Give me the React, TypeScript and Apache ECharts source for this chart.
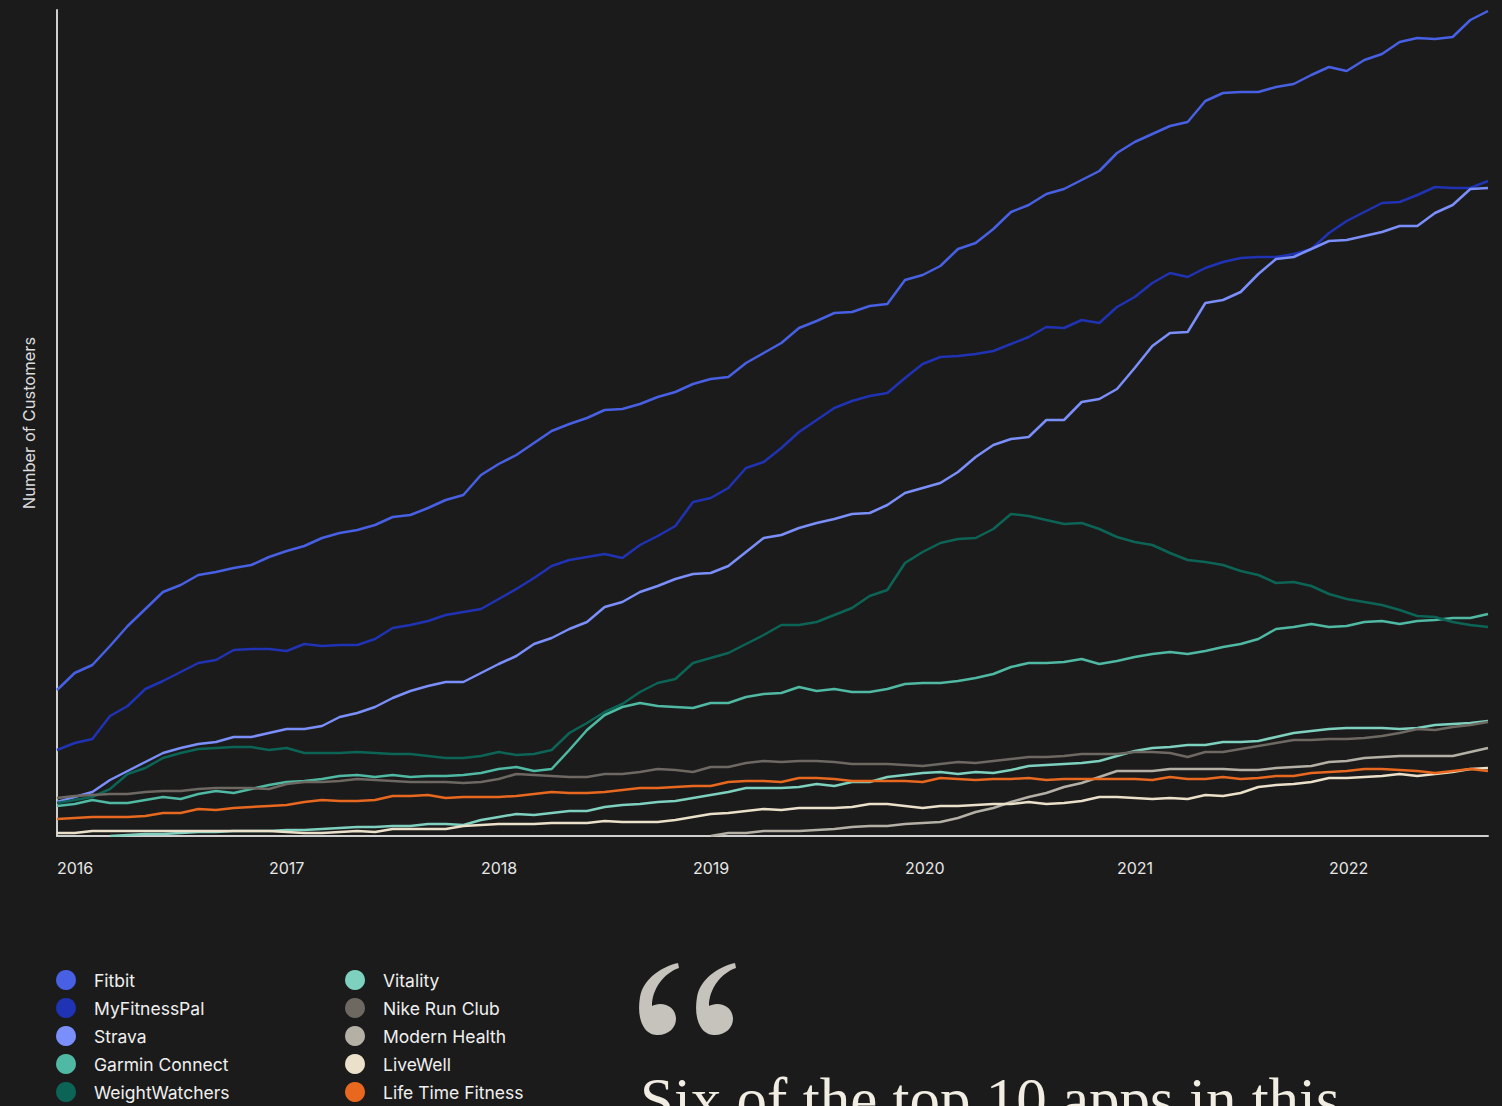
import { useEffect, useRef } from "react";
import * as echarts from "echarts";

// ---------- data ----------
const yearLabels: string[] = ["2016", "2017", "2018", "2019", "2020", "2021", "2022"];
const monthCount = 82; // Jan 2016 .. Oct 2022, monthly
const months: string[] = Array.from({ length: monthCount }, (_, i) => {
  const y = 2016 + Math.floor(i / 12);
  const m = (i % 12) + 1;
  return `${y}-${m < 10 ? "0" + m : m}`;
});

const fitbit = [146,163,171,190,210,227,244,251,261,264,268,271,279,285,290,298,303,306,311,319,321,328,336,341,361,372,381,393,405,412,418,426,427,432,439,444,452,457,459,473,483,493,508,515,523,524,530,532,556,561,570,587,593,607,624,631,642,647,656,665,683,694,702,710,714,735,743,744,744,749,752,761,769,765,776,782,794,798,797,799,816,825];
const myFitnessPal = [86,93,97,120,130,147,155,164,173,176,186,187,187,185,192,190,191,191,197,208,211,215,221,224,227,237,247,258,270,276,279,282,278,291,300,310,334,338,348,368,374,388,404,416,428,435,440,443,458,472,479,480,482,485,492,499,509,508,516,513,529,539,553,563,559,568,574,578,579,579,582,587,603,615,624,633,634,641,649,648,648,655];
const strava = [34,39,44,56,65,74,83,88,92,94,99,99,103,107,107,110,119,123,129,138,145,150,154,154,163,172,180,192,198,207,214,229,234,244,250,257,262,263,270,284,298,301,308,313,317,322,323,331,343,348,353,364,379,391,397,399,416,416,434,437,447,468,490,503,504,533,536,544,562,577,579,587,595,596,600,604,610,610,623,631,647,648];
const garminConnect = [30,32,36,33,33,36,39,37,42,45,43,47,51,54,55,57,60,61,59,61,59,60,60,61,63,67,69,65,67,86,106,121,129,133,130,129,128,133,133,139,142,143,149,145,147,144,144,147,152,153,153,155,158,162,169,173,173,174,177,172,175,179,182,184,182,185,189,192,197,207,209,212,209,210,214,215,212,215,216,218,218,222];
const weightWatchers = [33,36,39,47,62,68,78,83,87,88,89,89,86,88,83,83,83,84,83,82,82,80,78,78,80,84,81,82,86,103,113,124,132,144,153,157,173,178,183,192,201,211,211,214,221,228,240,246,273,284,293,297,298,307,322,320,316,312,313,307,299,294,291,283,276,274,271,265,261,253,254,250,242,237,234,231,226,220,219,214,211,209];
const vitality = [null,null,null,0,1,2,2,3,4,4,5,5,5,6,6,7,8,9,9,10,10,12,12,11,16,19,22,21,23,25,25,29,31,32,34,35,38,41,44,48,48,48,49,52,50,54,54,59,61,63,64,62,64,63,66,70,71,72,73,75,80,85,88,89,91,91,94,94,95,99,103,105,107,108,108,108,107,108,111,112,113,115];
const nikeRunClub = [38,40,41,42,42,44,45,45,47,48,48,48,47,52,54,54,55,57,56,55,54,54,54,53,54,57,62,61,60,59,59,62,62,64,67,66,64,69,69,73,75,74,75,75,74,72,72,72,71,70,72,74,73,75,77,79,79,80,82,82,82,84,84,83,79,84,84,87,90,93,96,96,97,97,98,100,103,107,106,109,111,114];
const modernHealth = [null,null,null,null,null,null,null,null,null,null,null,null,null,null,null,null,null,null,null,null,null,null,null,null,null,null,null,null,null,null,null,null,null,null,null,null,null,0,3,3,5,5,5,6,7,9,10,10,12,13,14,18,24,28,34,39,43,49,53,59,65,65,65,67,67,67,67,66,66,68,69,70,74,75,78,79,80,80,80,80,84,88];
const liveWell = [3,3,5,5,5,5,5,5,5,5,5,5,5,4,3,3,4,5,4,7,7,7,7,10,11,12,12,12,13,13,13,15,14,14,14,16,19,22,23,25,27,26,28,28,28,29,32,32,30,28,30,30,31,32,32,34,32,33,35,39,39,38,37,38,37,41,40,43,49,51,52,54,58,58,59,60,62,60,62,64,67,68];
const lifeTimeFitness = [17,18,19,19,19,20,23,23,27,26,28,29,30,31,34,36,35,35,36,40,40,41,38,39,39,39,40,42,44,43,43,44,46,48,48,49,50,50,54,55,55,54,58,58,57,55,55,55,55,54,58,57,56,57,57,58,56,57,57,57,57,57,56,59,57,57,59,57,58,60,60,63,64,65,67,67,66,65,63,65,67,65];

const seriesNames = [
  "Fitbit", "MyFitnessPal", "Strava", "Garmin Connect", "WeightWatchers",
  "Vitality", "Nike Run Club", "Modern Health", "LiveWell", "Life Time Fitness",
];
const seriesData = [
  fitbit, myFitnessPal, strava, garminConnect, weightWatchers,
  vitality, nikeRunClub, modernHealth, liveWell, lifeTimeFitness,
];
const seriesColors = [
  "#4760e4", "#1f33b4", "#7b8ffb", "#4fb9a3", "#0c6456",
  "#7ed0bf", "#6d6862", "#b4b0a6", "#ebe0c9", "#e8681f",
];

const yMax = 826;
const quoteText = "Six of the top 10 apps in this";

// one curly quote mark ("6" shape), local coordinates
const QUOTE_D =
  "M 39 0 C 22 4 4 16 1 34 C -1 46 0 58 6 66 C 10 71 15 72 19 72 C 29 72 37 65 37 56 C 37 47 30 41 21 41 C 18 41 15 42 13 43 C 13 26 25 10 40 5 Z";
echarts.graphic.registerShape("quoteMark", echarts.graphic.extendPath(QUOTE_D, {}));

const FONT = "Inter";

export default function App() {
  const ref = useRef<HTMLDivElement>(null);

  useEffect(() => {
    if (!ref.current) return;
    const chart = echarts.init(ref.current, undefined, { renderer: "svg" });

    const legendCommon = {
      orient: "vertical",
      top: 965,
      height: 200,
      padding: 5,
      icon: "circle",
      itemWidth: 20,
      itemHeight: 20,
      itemGap: 8,
      selectedMode: false,
      textStyle: {
        color: "#f0f0f0",
        fontSize: 17.5,
        fontFamily: FONT,
        padding: [0, 0, 0, 13],
      },
    };

    chart.setOption({
      animation: false,
      backgroundColor: "#1b1b1b",
      grid: { left: 57, right: 14, top: 10, bottom: 270, containLabel: false },
      xAxis: {
        type: "category",
        data: months,
        boundaryGap: false,
        axisLine: { show: true, lineStyle: { color: "#cfcfcf", width: 2 } },
        axisTick: { show: false },
        splitLine: { show: false },
        axisLabel: {
          interval: 11,
          align: "left",
          margin: 24,
          color: "#e6e6e6",
          fontSize: 16,
          fontFamily: FONT,
          formatter: (_v: string, idx: number) => yearLabels[Math.floor(idx / 12)] ?? "",
        },
      },
      yAxis: {
        type: "value",
        min: 0,
        max: yMax,
        name: "Number of Customers",
        nameLocation: "middle",
        nameGap: 20,
        nameTextStyle: { color: "#dcdcdc", fontSize: 16.5, fontFamily: FONT },
        axisLine: { show: true, lineStyle: { color: "#cfcfcf", width: 2 } },
        axisTick: { show: false },
        axisLabel: { show: false },
        splitLine: { show: false },
      },
      legend: [
        { ...legendCommon, left: 51, data: seriesNames.slice(0, 5) },
        { ...legendCommon, left: 340, data: seriesNames.slice(5) },
      ],
      graphic: [
        { type: "quoteMark", x: 639, y: 963, style: { fill: "#c6c3bc" } },
        { type: "quoteMark", x: 696, y: 963, style: { fill: "#c6c3bc" } },
        {
          type: "text",
          x: 640,
          y: 1069,
          style: {
            text: quoteText,
            fill: "#f2ede3",
            fontSize: 61,
            fontFamily: "Liberation Serif",
            verticalAlign: "top",
          },
        },
      ],
      series: seriesNames.map((name, i) => ({
        name,
        type: "line",
        data: seriesData[i],
        showSymbol: false,
        symbol: "none",
        color: seriesColors[i],
        itemStyle: { color: seriesColors[i] },
        lineStyle: { color: seriesColors[i], width: 2.5 },
        emphasis: { disabled: true },
      })),
    });

    return () => chart.dispose();
  }, []);

  return (
    <div
      ref={ref}
      style={{ position: "absolute", left: 0, top: 0, width: 1502, height: 1106 }}
    />
  );
}
